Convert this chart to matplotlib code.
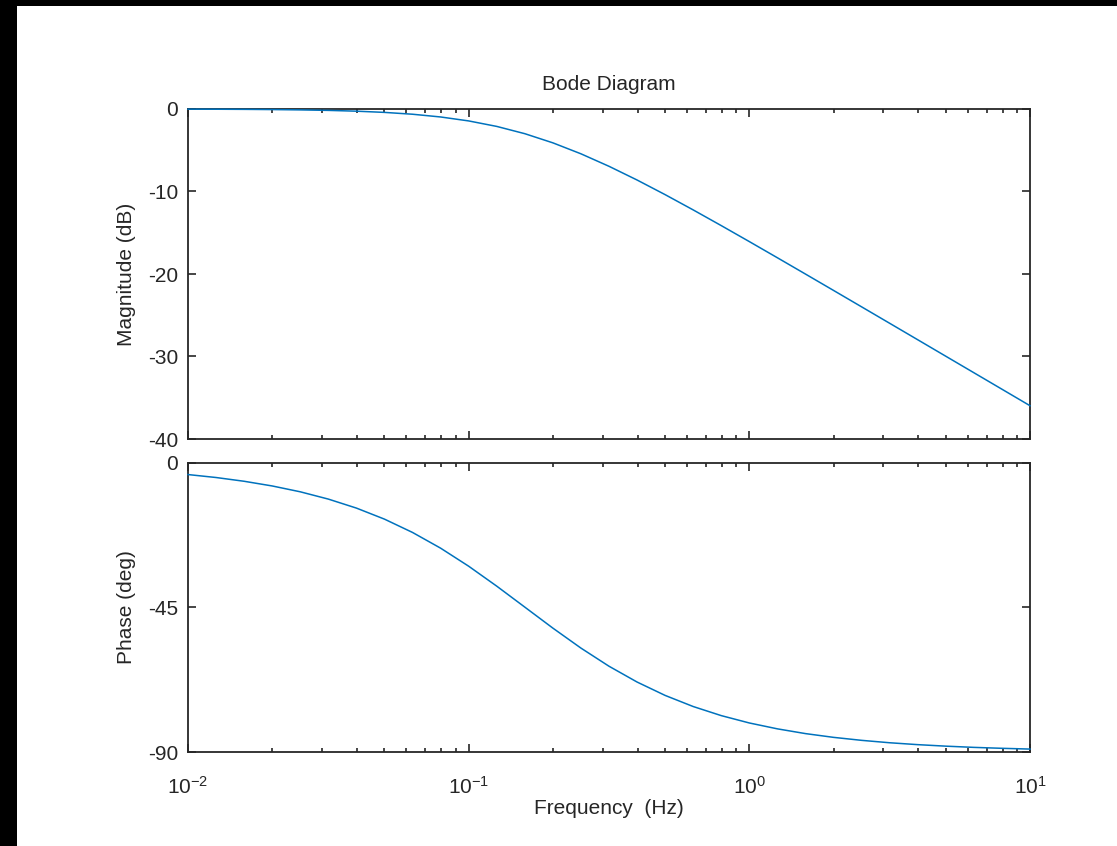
import numpy as np
import matplotlib
matplotlib.use("Agg")
import matplotlib.pyplot as plt
from matplotlib.patches import Rectangle
from matplotlib.ticker import LogLocator, FixedLocator, NullFormatter

# ---- data ----
freq_hz = [0.01, 0.012589, 0.015849, 0.019953, 0.025119, 0.031623, 0.039811,
           0.050119, 0.063096, 0.079433, 0.1, 0.12589, 0.15849, 0.19953,
           0.25119, 0.31623, 0.39811, 0.50119, 0.63096, 0.79433, 1.0,
           1.2589, 1.5849, 1.9953, 2.5119, 3.1623, 3.9811, 5.0119, 6.3096,
           7.9433, 10.0]
magnitude_db = [-0.017, -0.027, -0.043, -0.068, -0.107, -0.168, -0.264,
                -0.411, -0.634, -0.966, -1.445, -2.110, -2.992, -4.102,
                -5.430, -6.945, -8.607, -10.381, -12.232, -14.135, -16.072,
                -18.032, -20.007, -21.991, -23.981, -25.974, -27.970,
                -29.968, -31.966, -33.965, -35.965]
phase_deg = [-3.60, -4.52, -5.69, -7.15, -8.97, -11.24, -14.04, -17.48,
             -21.63, -26.52, -32.14, -38.35, -44.88, -51.42, -57.64, -63.29,
             -68.21, -72.38, -75.84, -78.67, -80.96, -82.79, -84.27, -85.44,
             -86.37, -87.12, -87.71, -88.18, -88.56, -88.85, -89.09]
mag_ticks = [-40, -30, -20, -10, 0]
phase_ticks = [-90, -45, 0]
title = "Bode Diagram"
xlabel = "Frequency  (Hz)"
ylabel_mag = "Magnitude (dB)"
ylabel_phase = "Phase (deg)"

TXT = "#262626"
LINE = "#0072BD"
FS = 15

plt.rcParams.update({
    "font.family": ["Liberation Sans", "DejaVu Sans"],
    "mathtext.fontset": "custom",
    "mathtext.rm": "Liberation Sans",
    "mathtext.it": "Liberation Sans",
    "mathtext.bf": "Liberation Sans",
    "axes.unicode_minus": False,
    "text.color": TXT,
    "axes.labelcolor": TXT,
    "xtick.color": TXT,
    "ytick.color": TXT,
})

W, H = 1117, 846
fig = plt.figure(figsize=(W / 100, H / 100), dpi=100)
fig.patch.set_facecolor("white")

# black borders (left and top)
fig.patches.append(Rectangle((0, 0), 17 / W, 1, transform=fig.transFigure,
                             facecolor="black", edgecolor="none", zorder=0))
fig.patches.append(Rectangle((0, 1 - 6 / H), 1, 6 / H, transform=fig.transFigure,
                             facecolor="black", edgecolor="none", zorder=0))

left = 188 / W
width = (1030 - 188) / W
ax1 = fig.add_axes([left, 1 - 439 / H, width, (439 - 109) / H])
ax2 = fig.add_axes([left, 1 - 752 / H, width, (752 - 463) / H])

for ax in (ax1, ax2):
    ax.set_xscale("log")
    ax.set_xlim(0.01, 10)
    for sp in ax.spines.values():
        sp.set_linewidth(1.3)
        sp.set_color(TXT)
    ax.tick_params(which="both", direction="in", top=True, right=True,
                   labelsize=FS, width=1.2, color=TXT)
    ax.tick_params(which="major", length=6.0)
    ax.tick_params(which="minor", length=3.0)
    ax.tick_params(axis="y", pad=7)
    ax.tick_params(axis="x", pad=17)
    ax.xaxis.set_major_locator(LogLocator(base=10, numticks=10))
    ax.xaxis.set_minor_locator(LogLocator(base=10, subs=np.arange(2, 10), numticks=10))
    ax.xaxis.set_minor_formatter(NullFormatter())

ax1.plot(freq_hz, magnitude_db, color=LINE, lw=1.1, zorder=3, clip_on=False)
ax1.set_ylim(-40, 0)
ax1.yaxis.set_major_locator(FixedLocator(mag_ticks))
ax1.tick_params(axis="x", labelbottom=False)
ax1.set_ylabel(ylabel_mag, fontsize=FS, labelpad=9)
ax1.set_title(title, fontsize=FS, pad=14, color=TXT)

ax2.plot(freq_hz, phase_deg, color=LINE, lw=1.1, zorder=3, clip_on=False)
ax2.set_ylim(-90, 0)
ax2.yaxis.set_major_locator(FixedLocator(phase_ticks))
ax2.set_ylabel(ylabel_phase, fontsize=FS, labelpad=9)
ax2.set_xlabel(xlabel, fontsize=FS, labelpad=1)

fig.align_ylabels([ax1, ax2])
fig.savefig("out.png", dpi=100, facecolor=fig.get_facecolor())
